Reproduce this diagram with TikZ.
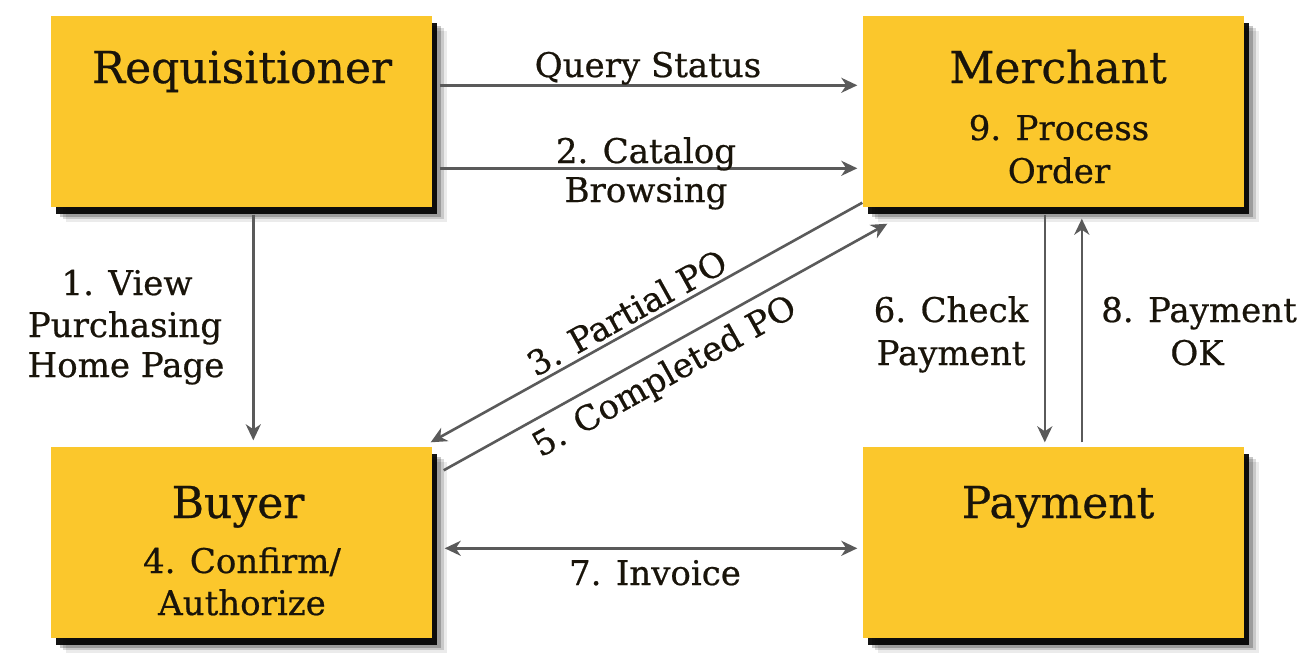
\documentclass[tikz,border=0pt]{standalone}
\usepackage{fontspec}
\setmainfont{DejaVu Serif}[FakeBold=0.6]
\usetikzlibrary{arrows.meta,calc,shadows}
\definecolor{gold}{RGB}{251,199,44}
\definecolor{wire}{RGB}{90,90,90}
\definecolor{ink}{RGB}{25,20,10}
\begin{document}
\begin{tikzpicture}[x=1pt,y=-1pt,
  >={Stealth[length=16pt,width=15pt,inset=5pt]},
  card/.style={fill=gold, minimum width=381pt, minimum height=191pt, inner sep=0pt,
    general shadow={fill=black, opacity=0.08, shadow xshift=15pt, shadow yshift=-15pt},
    general shadow={fill=black, opacity=0.14, shadow xshift=12pt, shadow yshift=-12pt},
    general shadow={fill=black, opacity=0.22, shadow xshift=9pt, shadow yshift=-10pt},
    general shadow={fill=black, opacity=0.92, shadow xshift=5pt, shadow yshift=-7pt}},
  title/.style={anchor=base, inner sep=0pt, text=ink, font=\fontsize{44}{53}\selectfont},
  note/.style={anchor=base, inner sep=0pt, text=ink, font=\fontsize{34}{40}\selectfont},
  slant/.style={sloped, inner sep=0pt, text=ink, font=\fontsize{34}{40}\selectfont},
  flow/.style={draw=wire, line width=2.6pt},
]
\useasboundingbox (0,0) rectangle (1313,664);
\fill[white] (0,0) rectangle (1313,664);

% the four parties
\node[card] (req) at (241,111) {};
\node[card] (mer) at (1053,111) {};
\node[card] (buy) at (241,542) {};
\node[card] (pay) at (1053,542) {};

\node[title] (reqT) at (242,83) {Requisitioner};
\node[title] (merT) at (1058,83) {Merchant};
\node[note] (merS1) at (1059,140) {9. Process};
\node[note] (merS2) at (1059,183) {Order};
\node[title] (buyT) at (238,518) {Buyer};
\node[note] (buyS1) at (242,573) {4. Confirm/};
\node[note] (buyS2) at (242,615) {Authorize};
\node[title] (payT) at (1058,518) {Payment};

% requisitioner to merchant
\draw[flow,->] ($(req.north east)+(8,70)$) -- ($(mer.north west)+(-5,70)$);
\draw[flow,->] ($(req.north east)+(8,153)$) -- ($(mer.north west)+(-5,153)$);
\node[note] (lq) at (648,77) {Query Status};
\node[note] (lc1) at (646,163) {2. Catalog};
\node[note] (lc2) at (646,202) {Browsing};

% requisitioner to buyer
\draw[flow,->] ($(req.south west)+(203,8)$) -- ($(buy.north west)+(203,-6)$);
\node[note] (lv1) at (127,295) {1. View};
\node[note] (lv2) at (125,337) {Purchasing};
\node[note] (lv3) at (126,377) {Home Page};

% purchase orders between buyer and merchant
\draw[flow,<-] ($(buy.north east)+(-1,-4)$) -- ($(mer.south west)+(0,-4)$)
  node[slant, above=4pt, pos=0.475] (lpo) {3. Partial PO};
\draw[flow,->] ($(buy.north east)+(12,24)$) -- ($(mer.south west)+(25,17)$)
  node[slant, below=9pt, pos=0.47] (lco) {5. Completed PO};

% merchant and payment
\draw[flow,->] ($(mer.south west)+(182.5,8)$) -- ($(pay.north west)+(182.5,-4)$);
\draw[flow,->] ($(pay.north west)+(219.5,-4)$) -- ($(mer.south west)+(219.5,12)$);
\node[note] (lk1) at (951,322) {6. Check};
\node[note] (lk2) at (951,365) {Payment};
\node[note] (lp1) at (1199,322) {8. Payment};
\node[note] (lp2) at (1197,365) {OK};

% buyer and payment
\draw[flow,<->] ($(buy.north east)+(13,102)$) -- ($(pay.north west)+(-5,102)$);
\node[note] (li) at (655,585) {7. Invoice};
\end{tikzpicture}
\end{document}
